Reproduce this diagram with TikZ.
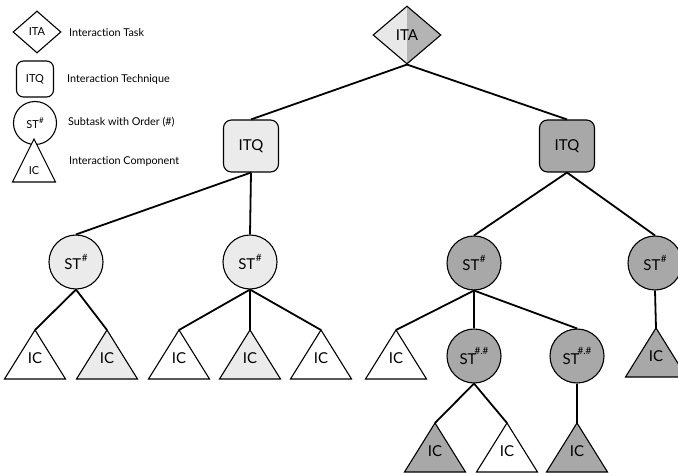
\documentclass[tikz,border=0pt]{standalone}
\usepackage{fontspec}
\setmainfont{Lato}[Ligatures={NoCommon}]
\usetikzlibrary{shapes.geometric}
\definecolor{lightf}{RGB}{235,235,235}
\definecolor{darkf}{RGB}{168,168,168}
\definecolor{itaL}{RGB}{232,232,232}
\definecolor{itaR}{RGB}{180,180,180}
\newcommand\ictri[8]{% name, x, apex y, fill, half width, height, text offset, font size
  \draw[tri, fill=#4] (#2,#3) -- ++(-#5,#6) -- ++(2*#5,0) -- cycle;
  \coordinate (#1) at (#2,#3);
  \node[inner sep=0pt, font=\fontsize{#8}{#8}\selectfont] (#1t) at (#2,#3+#7) {IC};
}
\newcommand\stsup{ST\kern0.5pt\raisebox{0.95ex}{\fontsize{10}{10}\selectfont\#}}
\newcommand\stsupsmall{ST\kern0.3pt\raisebox{0.95ex}{\fontsize{8}{8}\selectfont\#}}
\newcommand\stsubsup{ST\kern-2pt\raisebox{1.3ex}{\fontsize{10}{10}\selectfont\#.\#}}
\begin{document}
\begin{tikzpicture}[x=1pt,y=-1pt,
  shp/.style={draw=black, line width=1.1pt},
  conn/.style={line width=1.8pt},
  big/.style={font=\fontsize{15}{17}\selectfont},
  sm/.style={font=\fontsize{10.8}{12}\selectfont},
  stnode/.style={shp, circle, minimum size=54pt, inner sep=0pt, big},
  itqnode/.style={shp, rounded corners=8pt, minimum width=55pt, minimum height=52pt, inner sep=0pt, big},
  legtxt/.style={sm, anchor=west, inner sep=0pt},
  tri/.style={shp, line join=miter}
]
\clip (0,0) rectangle (678,473);
\fill[white] (0,0) rectangle (678,473);

% legend
\node[shp, diamond, minimum width=48pt, minimum height=42pt, inner sep=0pt, fill=white, font=\fontsize{11}{12}\selectfont] (lita) at (37,32) {ITA};
\node[legtxt] (tita) at (69,33) {Interaction Task};
\node[shp, rounded corners=7pt, minimum width=37pt, minimum height=36pt, inner sep=0pt, font=\fontsize{11}{12}\selectfont] (litq) at (35,79) {ITQ};
\node[legtxt] (titq) at (67,79) {Interaction Technique};
\node[shp, circle, minimum size=43pt, inner sep=0pt, font=\fontsize{11}{12}\selectfont] (lst) at (35,123) {\stsupsmall};
\node[legtxt] (tst) at (68,122) {Subtask with Order (\#)};
\ictri{lic}{34}{139}{white}{21.5}{43}{32}{11}
\node[legtxt] (tic) at (69,161) {Interaction Component};

% top
\node[shp, diamond, minimum width=68pt, minimum height=58pt, inner sep=0pt, big,
  path picture={\fill[itaL] (path picture bounding box.south west) rectangle (path picture bounding box.north);
                \fill[itaR] (path picture bounding box.north) rectangle (path picture bounding box.south east);}] (ita) at (407,35) {ITA};

\node[itqnode, fill=lightf] (itq1) at (251,146) {ITQ};
\node[itqnode, fill=darkf] (itq2) at (567,146) {ITQ};

\node[stnode, fill=lightf] (st1) at (76,262) {\stsup};
\node[stnode, fill=lightf] (st2) at (250,262) {\stsup};
\node[stnode, fill=darkf] (st3) at (474,263) {\stsup};
\node[stnode, fill=darkf] (st4) at (655,263) {\stsup};
\node[stnode, fill=darkf] (st31) at (474,356) {\stsubsup};
\node[stnode, fill=darkf] (st32) at (577,356) {\stsubsup};

\ictri{ic1}{35}{330}{white}{30.5}{49}{28}{15}
\ictri{ic2}{107}{330}{lightf}{30.5}{49}{28}{15}
\ictri{ic3}{179}{330}{white}{30.5}{49}{28}{15}
\ictri{ic4}{250}{330}{lightf}{30.5}{49}{28}{15}
\ictri{ic5}{321}{330}{white}{30.5}{49}{28}{15}
\ictri{ic6}{396}{330}{white}{30.5}{49}{28}{15}
\ictri{ic7}{656}{328}{darkf}{30.5}{49}{28}{15}
\ictri{ic8}{435}{423}{darkf}{30.5}{49}{28}{15}
\ictri{ic9}{507}{423}{white}{30.5}{49}{28}{15}
\ictri{ic10}{577}{423}{darkf}{30.5}{49}{28}{15}

% connectors
\draw[conn] (ita.south) -- (itq1.north);
\draw[conn] (ita.south) -- (itq2.north);
\draw[conn] (itq1.south) -- (st1.north);
\draw[conn] (itq1.south) -- (st2.north);
\draw[conn] (itq2.south) -- (st3.north);
\draw[conn] (itq2.south) -- (st4.north);
\draw[conn] (st1.south) -- (ic1);
\draw[conn] (st1.south) -- (ic2);
\draw[conn] (st2.south) -- (ic3);
\draw[conn] (st2.south) -- (ic4);
\draw[conn] (st2.south) -- (ic5);
\draw[conn] (st3.south) -- (ic6);
\draw[conn] (st3.south) -- (st31.north);
\draw[conn] (st3.south) -- (st32.north);
\draw[conn] (st4.south) -- (ic7);
\draw[conn] (st31.south) -- (ic8);
\draw[conn] (st31.south) -- (ic9);
\draw[conn] (st32.south) -- (ic10);
\end{tikzpicture}
\end{document}
